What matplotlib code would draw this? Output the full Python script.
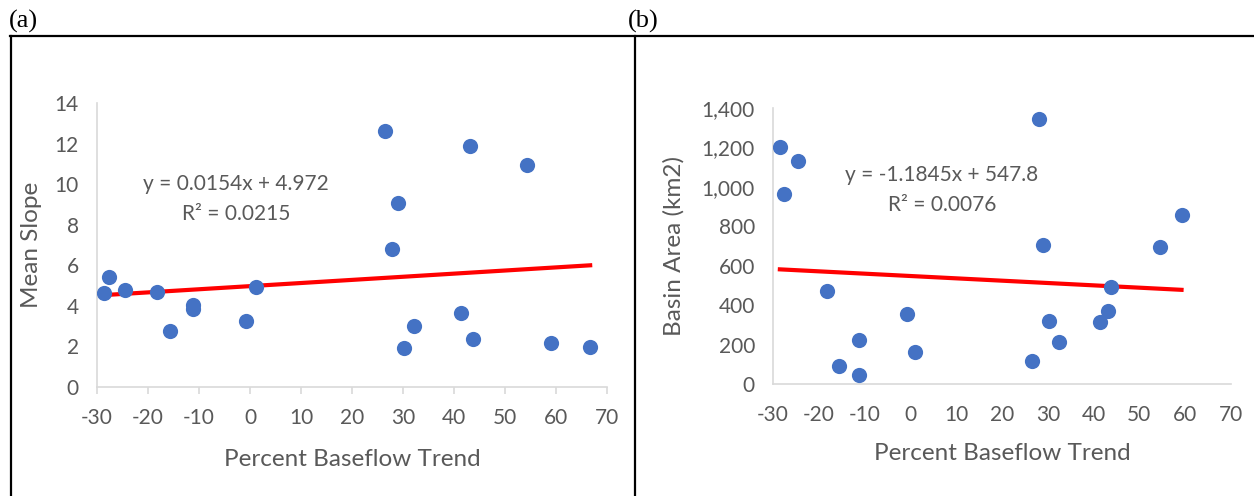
import matplotlib
matplotlib.use("Agg")
import matplotlib.pyplot as plt
from matplotlib.lines import Line2D
import numpy as np

# ---- data ----
trend_a = [-28.55, -27.6, -24.55, -18.3, -15.6, -11.2, -11.2, -0.86, 1.1, 26.4,
           27.9, 29.0, 30.2, 32.2, 41.3, 43.1, 43.8, 54.4, 59.0, 66.7]
slope_a = [4.65, 5.44, 4.78, 4.66, 2.77, 4.04, 3.84, 3.25, 4.94, 12.6,
           6.8, 9.09, 1.94, 3.01, 3.66, 11.86, 2.36, 10.92, 2.16, 1.99]
trend_b = [-28.5, -27.7, -24.6, -18.2, -15.5, -11.2, -11.2, -0.8, 1.1, 26.5,
           28.0, 29.0, 30.3, 32.4, 41.4, 43.2, 43.9, 54.5, 59.2]
area_b = [1202, 965, 1130, 474, 93, 223, 47, 356, 164, 118,
          1346, 703, 320, 212, 314, 368, 492, 695, 857]
fit_a = (0.0154, 4.972)
fit_b = (-1.1845, 547.8)
eq_a = ["y = 0.0154x + 4.972", "R² = 0.0215"]
eq_b = ["y = -1.1845x + 547.8", "R² = 0.0076"]

W, H = 1254, 496
plt.rcParams['axes.unicode_minus'] = False
plt.rcParams['font.family'] = ['Lato', 'DejaVu Sans']
fig = plt.figure(figsize=(W / 100, H / 100), dpi=100)

txt = '#595959'
grid_c = '#D9D9D9'
dot = '#4472C4'
TICK_FS = 15
LAB_FS = 17.5
EQ_FS = 15

def style(ax, xticks_marks):
    for s in ['top', 'right']:
        ax.spines[s].set_visible(False)
    for s in ['left', 'bottom']:
        ax.spines[s].set_color(grid_c)
        ax.spines[s].set_linewidth(1.2)
    ax.tick_params(axis='y', length=0, pad=13, labelsize=TICK_FS, labelcolor=txt)
    if xticks_marks:
        ax.tick_params(axis='x', length=5, width=1.2, color=grid_c, pad=10,
                       labelsize=TICK_FS, labelcolor=txt, direction='out')
    else:
        ax.tick_params(axis='x', length=0, pad=15, labelsize=TICK_FS, labelcolor=txt)

def px_axes(l, r, t, b):
    return fig.add_axes([l / W, (H - b) / H, (r - l) / W, (b - t) / H])

# ---- panel (a) ----
ax1 = px_axes(97, 607, 103, 387)
ax1.scatter(trend_a, slope_a, s=120, color=dot, zorder=3, linewidths=0)
xa = np.array([min(trend_a), max(trend_a)])
ax1.plot(xa, fit_a[0] * xa + fit_a[1], color='#FF0000', lw=3, zorder=2)
ax1.set_xlim(-30, 70)
ax1.set_ylim(0, 14)
ax1.set_xticks(range(-30, 71, 10))
ax1.set_yticks(range(0, 15, 2))
style(ax1, True)
ax1.set_xlabel('Percent Baseflow Trend', fontsize=LAB_FS, color=txt, labelpad=15)
ax1.set_ylabel('Mean Slope', fontsize=LAB_FS, color=txt, labelpad=9)
ax1.text(-2.7, 10.0, eq_a[0], ha='center', va='center', fontsize=EQ_FS, color=txt)
ax1.text(-2.7, 8.55, eq_a[1], ha='center', va='center', fontsize=EQ_FS, color=txt)

# ---- panel (b) ----
ax2 = px_axes(773, 1231, 108, 384)
ax2.scatter(trend_b, area_b, s=120, color=dot, zorder=3, linewidths=0)
xb = np.array([min(trend_b), max(trend_b)])
ax2.plot(xb, fit_b[0] * xb + fit_b[1], color='#FF0000', lw=3, zorder=2)
ax2.set_xlim(-30, 70)
ax2.set_ylim(0, 1400)
ax2.set_xticks(range(-30, 71, 10))
ax2.set_yticks(range(0, 1401, 200))
ax2.yaxis.set_major_formatter(matplotlib.ticker.FuncFormatter(lambda v, p: f'{int(v):,}'))
style(ax2, False)
ax2.set_xlabel('Percent Baseflow Trend', fontsize=LAB_FS, color=txt, labelpad=13)
ax2.set_ylabel('Basin Area (km2)', fontsize=LAB_FS, color=txt, labelpad=12)
ax2.text(6.9, 1060, eq_b[0], ha='center', va='center', fontsize=EQ_FS, color=txt)
ax2.text(6.9, 910, eq_b[1], ha='center', va='center', fontsize=EQ_FS, color=txt)

# ---- panel borders & labels ----
def fline(x0, y0, x1, y1):
    fig.add_artist(Line2D([x0 / W, x1 / W], [1 - y0 / H, 1 - y1 / H],
                          color='black', lw=1.6, transform=fig.transFigure))

fline(10, 36, W, 36)
fline(11, 36, 11, H)
fline(635, 36, 635, H)
fig.text(9 / W, 1 - 21 / H, '(a)', ha='left', va='center', fontsize=19,
         family='Liberation Serif', color='black')
fig.text(628 / W, 1 - 21 / H, '(b)', ha='left', va='center', fontsize=19,
         family='Liberation Serif', color='black')

fig.savefig('out.png', dpi=100)
